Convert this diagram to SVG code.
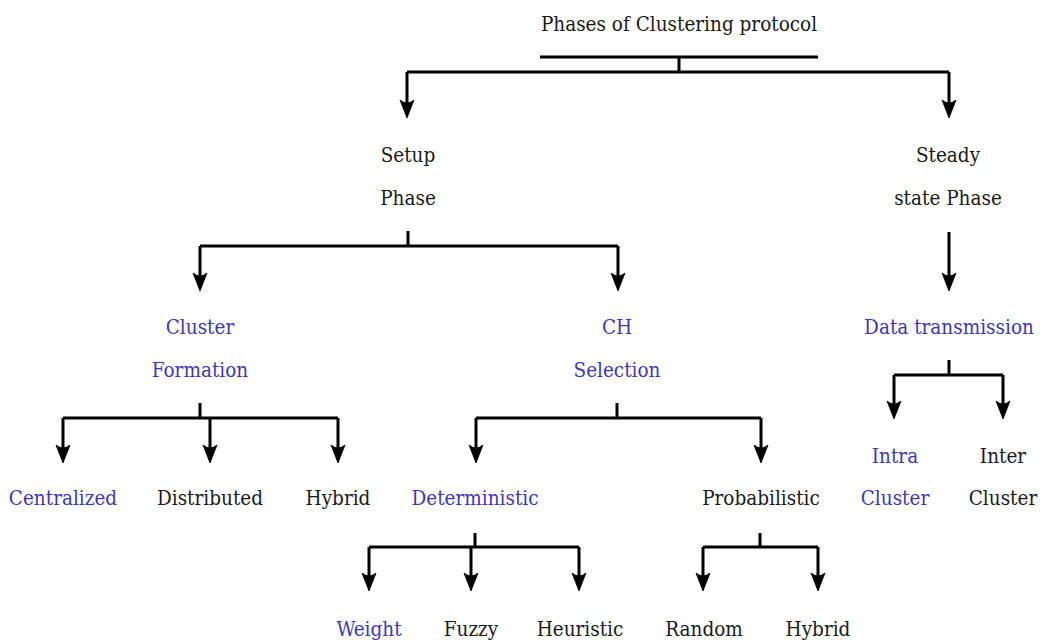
<svg xmlns="http://www.w3.org/2000/svg" width="1040" height="641" viewBox="0 0 1040 641">
  <style>
    text { font-family: 'DejaVu Serif Condensed', 'DejaVu Serif', serif; font-size: 20.5px; fill: #1a1a1a; text-anchor: middle; }
    .blue { fill: #3d37b8; }
    .wire { stroke: #000; stroke-width: 3; fill: none; stroke-linecap: butt; }
    .arr { stroke: #000; stroke-width: 3; fill: none; marker-end: url(#tip); }
  </style>
  <defs>
    <!-- filled dart with a concave back; the tip sits 6px past the end of the line -->
    <marker id="tip" markerUnits="userSpaceOnUse" viewBox="-20 -10 30 20" refX="-6" refY="0" markerWidth="30" markerHeight="20" orient="auto" overflow="visible">
      <path d="M0,0 L-18,-7 Q-12,0 -18,7 Z" fill="#000" stroke="#000" stroke-width="0.8" stroke-linejoin="miter"/>
    </marker>
  </defs>
  <rect width="1040" height="641" fill="#fff"/>

  <g id="connectors">
    <!-- root to phases -->
    <line class="wire" x1="540" y1="57" x2="818" y2="57"/>
    <line class="wire" x1="679" y1="57" x2="679" y2="72"/>
    <line class="wire" x1="407" y1="72" x2="949" y2="72"/>
    <line class="arr" x1="407" y1="72" x2="407" y2="112"/>
    <line class="arr" x1="949" y1="72" x2="949" y2="112"/>

    <!-- setup phase -->
    <line class="wire" x1="408" y1="231" x2="408" y2="246"/>
    <line class="wire" x1="200" y1="246" x2="618" y2="246"/>
    <line class="arr" x1="200" y1="246" x2="200" y2="285"/>
    <line class="arr" x1="618" y1="246" x2="618" y2="285"/>

    <!-- steady state -->
    <line class="arr" x1="949" y1="232" x2="949" y2="285"/>

    <!-- cluster formation -->
    <line class="wire" x1="200" y1="403" x2="200" y2="418"/>
    <line class="wire" x1="63" y1="418" x2="338" y2="418"/>
    <line class="arr" x1="63" y1="418" x2="63" y2="457"/>
    <line class="arr" x1="210" y1="418" x2="210" y2="457"/>
    <line class="arr" x1="338" y1="418" x2="338" y2="457"/>

    <!-- CH selection -->
    <line class="wire" x1="617" y1="403" x2="617" y2="418"/>
    <line class="wire" x1="476" y1="418" x2="761" y2="418"/>
    <line class="arr" x1="476" y1="418" x2="476" y2="457"/>
    <line class="arr" x1="761" y1="418" x2="761" y2="457"/>

    <!-- data transmission -->
    <line class="wire" x1="949" y1="360" x2="949" y2="375"/>
    <line class="wire" x1="894" y1="375" x2="1003" y2="375"/>
    <line class="arr" x1="894" y1="375" x2="894" y2="413"/>
    <line class="arr" x1="1003" y1="375" x2="1003" y2="413"/>

    <!-- deterministic -->
    <line class="wire" x1="475" y1="533" x2="475" y2="547"/>
    <line class="wire" x1="369" y1="547" x2="579" y2="547"/>
    <line class="arr" x1="369" y1="547" x2="369" y2="585"/>
    <line class="arr" x1="471" y1="547" x2="471" y2="585"/>
    <line class="arr" x1="579" y1="547" x2="579" y2="585"/>

    <!-- probabilistic -->
    <line class="wire" x1="760" y1="533" x2="760" y2="547"/>
    <line class="wire" x1="703" y1="547" x2="818" y2="547"/>
    <line class="arr" x1="703" y1="547" x2="703" y2="585"/>
    <line class="arr" x1="818" y1="547" x2="818" y2="585"/>
  </g>

  <g id="root"><text x="679" y="31">Phases of Clustering protocol</text></g>
  <g id="setup"><text x="408" y="162">Setup</text><text x="408" y="205">Phase</text></g>
  <g id="steady"><text x="948" y="162">Steady</text><text x="948" y="205">state Phase</text></g>
  <g id="cluster-formation"><text class="blue" x="200" y="334">Cluster</text><text class="blue" x="200" y="377">Formation</text></g>
  <g id="ch-selection"><text class="blue" x="617" y="334">CH</text><text class="blue" x="617" y="377">Selection</text></g>
  <g id="data-transmission"><text class="blue" x="949" y="334">Data transmission</text></g>
  <g id="centralized"><text class="blue" x="63" y="505">Centralized</text></g>
  <g id="distributed"><text x="210" y="505">Distributed</text></g>
  <g id="hybrid-formation"><text x="338" y="505">Hybrid</text></g>
  <g id="deterministic"><text class="blue" x="475" y="505">Deterministic</text></g>
  <g id="probabilistic"><text x="761" y="505">Probabilistic</text></g>
  <g id="intra"><text class="blue" x="895" y="463">Intra</text><text class="blue" x="895" y="505">Cluster</text></g>
  <g id="inter"><text x="1003" y="463">Inter</text><text x="1003" y="505">Cluster</text></g>
  <g id="weight"><text class="blue" x="369" y="636">Weight</text></g>
  <g id="fuzzy"><text x="471" y="636">Fuzzy</text></g>
  <g id="heuristic"><text x="580" y="636">Heuristic</text></g>
  <g id="random"><text x="704" y="636">Random</text></g>
  <g id="hybrid-selection"><text x="818" y="636">Hybrid</text></g>
</svg>
